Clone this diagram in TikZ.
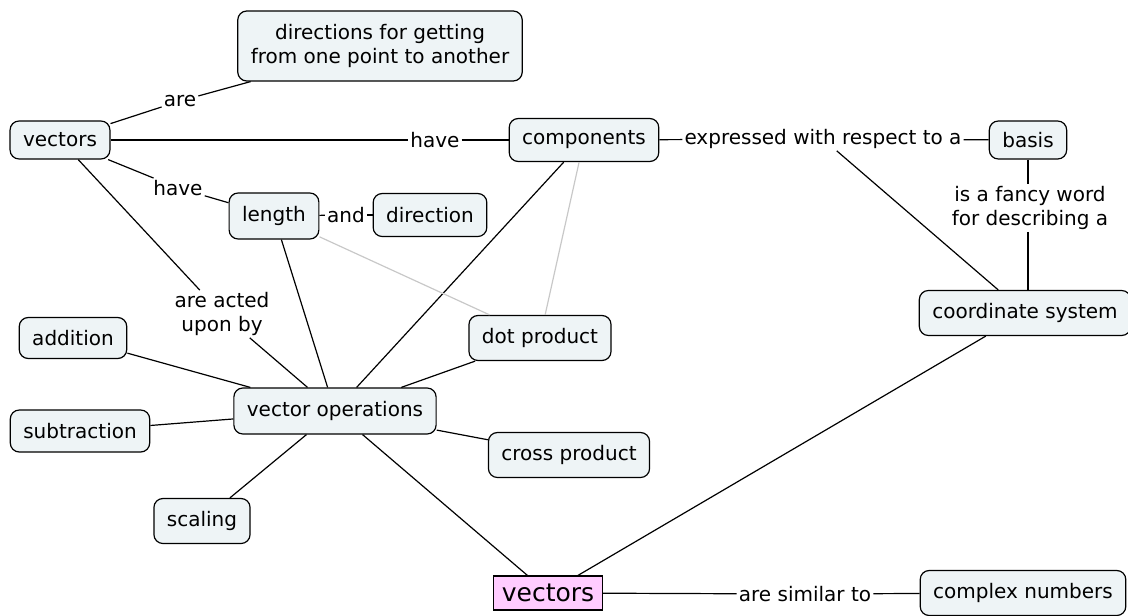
\documentclass[tikz,border=0pt]{standalone}
\usepackage{fontspec}
\setmainfont{DejaVu Sans}
\usepackage{xcolor}
\usepackage{tikz}
\usetikzlibrary{positioning}

\definecolor{conceptfill}{RGB}{238,244,246}
\definecolor{rootfill}{RGB}{255,204,255}
\definecolor{weaklink}{RGB}{200,200,200}

\begin{document}
\begin{tikzpicture}[x=1pt, y=-1pt,
    concept/.style={rectangle, rounded corners=9pt, draw, line width=1.2pt, fill=conceptfill,
        font=\fontsize{20}{24}\selectfont, minimum height=43pt, inner xsep=13pt, align=center},
    linkword/.style={font=\fontsize{20}{24}\selectfont, inner sep=2pt, align=center},
    conn/.style={line width=1.2pt},
    weak/.style={line width=1.2pt, color=weaklink}]
    \useasboundingbox (0,0) rectangle (1128,616);

    % Concepts
    \node[concept, minimum height=38pt] (vectors) at (60,140) {vectors};
    \node[concept, minimum height=70pt] (directions) at (380,46) {directions for getting\\from one point to another};
    \node[concept] (components) at (584,140) {components};
    \node[concept, minimum height=38pt] (basis) at (1028,140) {basis};
    \node[concept, minimum height=46pt] (length) at (274,216) {length};
    \node[concept] (direction) at (430,215) {direction};
    \node[concept, minimum height=45pt] (coordsys) at (1025,313) {coordinate system};
    \node[concept, minimum height=41pt] (addition) at (73,338) {addition};
    \node[concept, minimum height=45pt] (dotprod) at (540,338) {dot product};
    \node[concept, minimum height=46pt] (vecops) at (335,411) {vector operations};
    \node[concept, minimum height=42pt] (subtraction) at (80,431) {subtraction};
    \node[concept, minimum height=45pt] (crossprod) at (569,455) {cross product};
    \node[concept, minimum height=45pt] (scaling) at (202,521) {scaling};
    \node[concept, minimum height=45pt] (complex) at (1023,593) {complex numbers};
    \node[rectangle, draw, line width=1.2pt, fill=rootfill, font=\fontsize{25}{29}\selectfont,
        minimum height=34pt, minimum width=109pt, inner sep=2pt] (root) at (548,593) {vectors};

    % Linking phrases
    \node[linkword] (are) at (180,101) {are};
    \node[linkword] (have1) at (435,140) {have};
    \node[linkword] (expressed) at (823,139) {expressed with respect to a};
    \node[linkword] (have2) at (178,188) {have};
    \node[linkword] (and) at (346,215) {and};
    \node[linkword] (actedupon) at (222,314) {are acted\\upon by};
    \node[linkword] (fancyword) at (1030,208) {is a fancy word\\for describing a};
    \node[linkword] (similar) at (805,594) {are similar to};

    % Labelled connections
    \draw[conn] (vectors) -- (are);
    \draw[conn] (are) -- (directions);
    \draw[conn] (vectors) -- (have1);
    \draw[conn] (have1) -- (components);
    \draw[conn] (components) -- (expressed);
    \draw[conn] (expressed) -- (basis);
    \draw[conn] (expressed) -- (coordsys);
    \draw[conn] (vectors) -- (have2);
    \draw[conn] (have2) -- (length);
    \draw[conn] (length) -- (and);
    \draw[conn] (and) -- (direction);
    \draw[conn] (vectors) -- (actedupon);
    \draw[conn] (actedupon) -- (vecops);
    \draw[conn] (basis.south) -- (basis.south |- fancyword.north);
    \draw[conn] (basis.south |- fancyword.south) -- (basis.south |- coordsys.north);
    \draw[conn] (root) -- (similar);
    \draw[conn] (similar) -- (complex);

    % Plain connections
    \draw[conn] (components) -- (vecops);
    \draw[conn] (length) -- (vecops);
    \draw[conn] (vecops) -- (addition);
    \draw[conn] (vecops) -- (dotprod);
    \draw[conn] (vecops) -- (subtraction);
    \draw[conn] (vecops) -- (crossprod);
    \draw[conn] (vecops) -- (scaling);
    \draw[conn] (vecops) -- (root);
    \draw[conn] (coordsys) -- (root);

    % Faint connections
    \draw[weak] (length) -- (dotprod);
    \draw[weak] (components) -- (dotprod);
\end{tikzpicture}
\end{document}
